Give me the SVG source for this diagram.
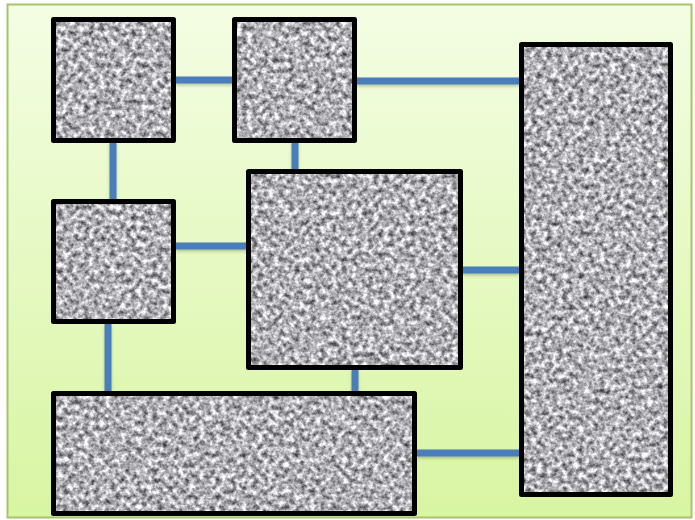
<svg xmlns="http://www.w3.org/2000/svg" width="695" height="520" viewBox="0 0 695 520">
  <defs>
    <linearGradient id="bg" x1="0" y1="0" x2="0" y2="1">
      <stop offset="0" stop-color="#f4fde4"/>
      <stop offset="1" stop-color="#d8f5a2"/>
    </linearGradient>
    <filter id="noise" x="0" y="0" width="100%" height="100%" color-interpolation-filters="sRGB">
      <feTurbulence type="fractalNoise" baseFrequency="0.19" numOctaves="3" seed="7" result="t"/>
      <feColorMatrix in="t" type="matrix" values="1.25 0 0 0 0.06  1.25 0 0 0 0.06  1.25 0 0 0 0.08  0 0 0 0 1" result="g"/>
      <feComposite in="g" in2="SourceGraphic" operator="in"/>
    </filter>
    <filter id="shadow" filterUnits="userSpaceOnUse" x="0" y="0" width="695" height="520">
      <feDropShadow dx="0" dy="2" stdDeviation="1.5" flood-color="#556b2f" flood-opacity="0.35"/>
    </filter>
  </defs>
  <style>
    .tex { fill: #aaa; filter: url(#noise); }
    .frame { fill: none; stroke: #000; stroke-width: 5; stroke-linejoin: round; }
    .conn { stroke: #4a7ebb; stroke-width: 7; fill: none; }
  </style>
  <rect x="7.5" y="4.5" width="684" height="513" fill="url(#bg)" stroke="#a6c46c" stroke-width="2"/>

  <g id="connectors" filter="url(#shadow)">
    <line class="conn" x1="176" y1="80" x2="233" y2="80"/>
    <line class="conn" x1="357" y1="81" x2="519" y2="81"/>
    <line class="conn" x1="113" y1="142" x2="113" y2="199"/>
    <line class="conn" x1="295" y1="142" x2="295" y2="169"/>
    <line class="conn" x1="176" y1="246" x2="247" y2="246"/>
    <line class="conn" x1="463" y1="270" x2="519" y2="270"/>
    <line class="conn" x1="108" y1="324" x2="108" y2="391"/>
    <line class="conn" x1="355" y1="370" x2="355" y2="391"/>
    <line class="conn" x1="417" y1="453" x2="519" y2="453"/>
  </g>

  <g id="node-a">
    <rect class="tex" x="53" y="19.5" width="121" height="121"/>
    <rect class="frame" x="53.5" y="19.5" width="120" height="121"/>
  </g>
  <g id="node-b">
    <rect class="tex" x="234" y="19.5" width="121" height="121"/>
    <rect class="frame" x="234.5" y="19.5" width="120" height="121"/>
  </g>
  <g id="node-c">
    <rect class="tex" x="521" y="44.5" width="150" height="450"/>
    <rect class="frame" x="521.5" y="44.5" width="149" height="450"/>
  </g>
  <g id="node-d">
    <rect class="tex" x="53" y="201.5" width="121" height="120"/>
    <rect class="frame" x="53.5" y="201.5" width="120" height="120"/>
  </g>
  <g id="node-e">
    <rect class="tex" x="248" y="171.5" width="213" height="196"/>
    <rect class="frame" x="248.5" y="171.5" width="212" height="196"/>
  </g>
  <g id="node-f">
    <rect class="tex" x="53" y="393" width="362" height="120"/>
    <rect class="frame" x="53.5" y="393.5" width="361" height="120"/>
  </g>
</svg>
